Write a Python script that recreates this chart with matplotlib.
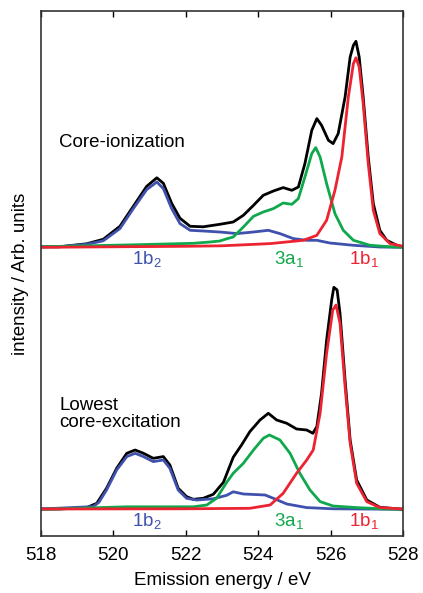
import matplotlib
matplotlib.use('Agg')
import matplotlib.pyplot as plt

plt.rcParams['font.family'] = ['Liberation Sans', 'DejaVu Sans']
plt.rcParams['mathtext.fontset'] = 'custom'
plt.rcParams['mathtext.rm'] = 'Liberation Sans'
plt.rcParams['mathtext.it'] = 'Liberation Sans:italic'

# vertical shift of the upper (core-ionization) spectra
offset_top = 262

# --- core-ionization spectra (energy in eV, intensity in arb. units) ---
e_tot_ci = [518.0, 518.5, 519.26, 519.72, 520.18, 520.55, 520.92, 521.2, 521.38, 521.61,
            521.84, 522.12, 522.48, 522.94, 523.31, 523.59, 523.87, 524.14, 524.42, 524.69,
            524.93, 525.11, 525.29, 525.48, 525.62, 525.75, 525.94, 526.07, 526.21, 526.4,
            526.54, 526.63, 526.7, 526.79, 526.9, 527.04, 527.18, 527.36, 527.55, 527.83, 528.0]
i_tot_ci = [0.5, 0.5, 3.5, 8, 21, 41, 61, 69.5, 64, 44,
            29, 21, 20.5, 23, 25.3, 32, 42, 52, 56.3, 59.7,
            57, 60.3, 83.7, 117, 128.7, 122, 107, 103.7, 113.7, 150.3,
            190.3, 202, 206, 190.3, 150.3, 90.3, 43.7, 17, 7, 2, 0.5]

e_1b2_ci = [518.0, 518.5, 519.26, 519.72, 520.18, 520.55, 520.92, 521.2, 521.38, 521.61,
            521.84, 522.12, 522.48, 522.94, 523.41, 523.87, 524.28, 524.6, 524.97, 525.34,
            525.62, 525.98, 526.63, 527.36, 528.0]
i_1b2_ci = [0.5, 0.5, 3, 6.5, 18.7, 38.7, 57.7, 65.3, 58.7, 38.7,
            23.7, 17, 16.3, 15.3, 13.7, 15.3, 17, 13.7, 8.7, 7,
            7, 4.3, 2, 0.3, 0]

e_3a1_ci = [518.0, 520.55, 522.21, 522.67, 522.94, 523.13, 523.31, 523.59, 523.87, 524.14,
            524.42, 524.69, 524.93, 525.11, 525.29, 525.48, 525.59, 525.71, 525.89, 526.12,
            526.35, 526.63, 527.09, 527.73, 528.0]
i_3a1_ci = [0.5, 2.5, 4, 5.3, 6.3, 8.5, 10.3, 20.3, 31, 35.3,
            38.7, 44.3, 43, 48.7, 70.3, 93.7, 99.7, 90.3, 63.7, 33.7,
            17, 7, 2, 0.3, 0]

e_1b1_ci = [518.0, 520.0, 522.0, 523.0, 524.33, 525.25, 525.62, 525.89, 526.12, 526.31,
            526.49, 526.63, 526.7, 526.79, 526.9, 527.04, 527.18, 527.36, 527.64, 528.0]
i_1b1_ci = [0, 0.5, 1, 1.5, 3.7, 7, 12, 27, 57, 90.3,
            150.3, 183.7, 189.5, 180.3, 143.7, 83.7, 37, 13.7, 3.7, 1]

# --- lowest core-excitation spectra ---
e_tot_ce = [518.0, 518.5, 519.26, 519.54, 519.81, 520.09, 520.37, 520.6, 520.83, 521.1,
            521.38, 521.56, 521.79, 522.02, 522.21, 522.48, 522.76, 523.04, 523.31, 523.54,
            523.77, 524.05, 524.28, 524.51, 524.79, 525.06, 525.34, 525.51, 525.62, 525.75,
            525.89, 526.03, 526.09, 526.18, 526.26, 526.4, 526.54, 526.72, 527.0, 527.36, 528.0]
i_tot_ce = [0.3, 0.3, 1.7, 6, 21, 41, 56, 59.3, 56, 51,
            52.7, 44.3, 21, 12.7, 10, 11, 15, 27, 52, 64.3,
            77.7, 89.3, 96, 89.3, 86, 80.3, 79.3, 76, 82.7, 116,
            169.3, 209.3, 222, 219.3, 196, 129.3, 69.3, 29.3, 9.3, 2, 0]

e_1b2_ce = [518.0, 519.44, 519.6, 519.81, 520.09, 520.37, 520.6, 520.83, 521.1, 521.38,
            521.56, 521.79, 522.02, 522.3, 522.76, 523.13, 523.31, 523.59, 524.19, 524.42,
            524.79, 525.34, 526.07, 528.0]
i_1b2_ce = [0.3, 2.7, 7, 19.3, 39.3, 52.7, 56, 52.7, 47.7, 49.3,
            41, 19.3, 11, 9.3, 10.5, 14, 17.5, 15.3, 14.3, 11,
            5.3, 1.7, 0.5, 0]

e_3a1_ce = [518.0, 520.37, 522.21, 522.58, 522.85, 523.13, 523.31, 523.59, 523.87, 524.14,
            524.31, 524.6, 524.88, 525.15, 525.43, 525.71, 526.07, 526.72, 527.5, 528.0]
i_3a1_ce = [0, 2.5, 2.5, 4.3, 11, 27, 36, 46, 59.3, 71,
            74.3, 69.3, 56, 36, 19.3, 7.7, 3.3, 1.7, 0.3, 0]

e_1b1_ce = [518.0, 522.0, 523.77, 524.33, 524.69, 525.06, 525.34, 525.52, 525.71, 525.89,
            526.06, 526.15, 526.26, 526.4, 526.54, 526.72, 527.0, 527.36, 528.0]
i_1b1_ce = [0.3, 0.5, 1, 4.3, 16, 36, 49.3, 59.3, 96, 156,
            199.3, 204.3, 186, 122.7, 66, 26, 7.7, 1.7, 0.3]

c_tot = 'black'
c_1b2 = '#3f51ad'
c_3a1 = '#0fa84c'
c_1b1 = '#ec2330'
lw = 2.0

fig = plt.figure(figsize=(4.23, 5.93), dpi=100)
ax = fig.add_axes([41 / 423, 1 - 536 / 593, 362 / 423, 525 / 593])

for off, curves in [
    (offset_top, [(e_tot_ci, i_tot_ci, c_tot), (e_1b2_ci, i_1b2_ci, c_1b2),
                  (e_3a1_ci, i_3a1_ci, c_3a1), (e_1b1_ci, i_1b1_ci, c_1b1)]),
    (0, [(e_tot_ce, i_tot_ce, c_tot), (e_1b2_ce, i_1b2_ce, c_1b2),
         (e_3a1_ce, i_3a1_ce, c_3a1), (e_1b1_ce, i_1b1_ce, c_1b1)]),
]:
    for e, i, c in curves:
        ax.plot(e, [v + off for v in i], color=c, lw=lw, solid_joinstyle='round')

fs = 13.5
ax.text(518.5, offset_top + 105, 'Core-ionization', fontsize=fs, va='center', ha='left')
ax.text(518.5, 95, 'Lowest\ncore-excitation', fontsize=fs, va='center', ha='left',
        linespacing=1.0)

for off in (offset_top, 0):
    ax.text(520.93, off - 12, '1b$_2$', color=c_1b2, fontsize=fs, ha='center', va='center')
    ax.text(524.85, off - 12, '3a$_1$', color=c_3a1, fontsize=fs, ha='center', va='center')
    ax.text(526.92, off - 12, '1b$_1$', color=c_1b1, fontsize=fs, ha='center', va='center')

ax.set_xlim(518, 528)
ax.set_ylim(-26.7, 498.3)
ax.set_xticks([518, 520, 522, 524, 526, 528])
ax.set_yticks([])
ax.tick_params(axis='x', direction='in', top=True, length=4, width=1, pad=8,
               labelsize=fs, colors='black')
for s in ax.spines.values():
    s.set_linewidth(1.2)
    s.set_color('#333333')

ax.set_xlabel('Emission energy / eV', fontsize=fs, labelpad=6)
ax.set_ylabel('intensity / Arb. units', fontsize=fs, labelpad=9)

fig.savefig('out.png', dpi=100)
